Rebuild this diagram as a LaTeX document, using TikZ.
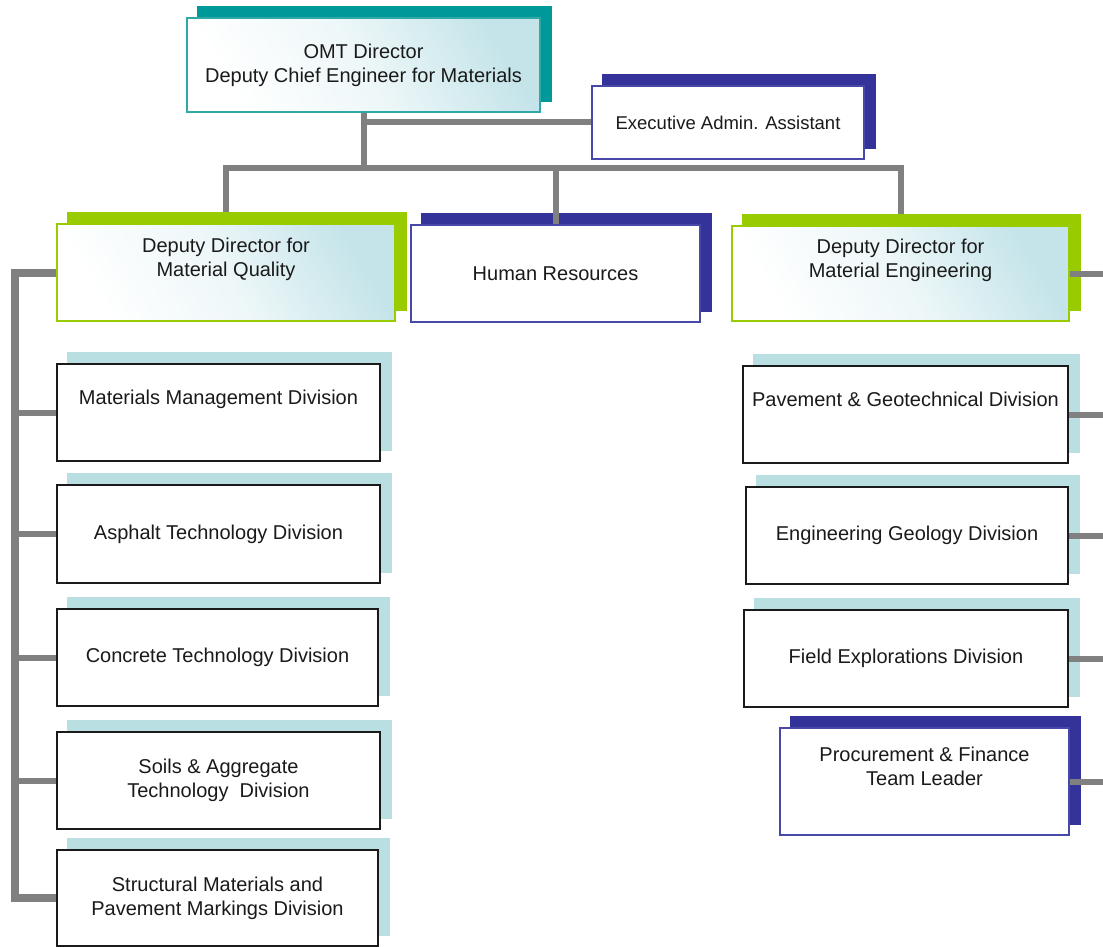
\documentclass[tikz,border=0pt]{standalone}
\usepackage{fontspec}
\setmainfont{Liberation Sans}
\pgfdeclarelayer{shadowlayer}
\pgfdeclarelayer{wirelayer}
\pgfsetlayers{shadowlayer,wirelayer,main}

\definecolor{tealshade}{HTML}{009999}
\definecolor{tealline}{HTML}{2FA8A8}
\definecolor{navyshade}{HTML}{333399}
\definecolor{navyline}{HTML}{4848A8}
\definecolor{limeshade}{HTML}{99CC00}
\definecolor{iceshade}{HTML}{B9DFE3}
\definecolor{wiregray}{HTML}{808080}
\definecolor{tint}{HTML}{C4E4E9}
\definecolor{ink}{HTML}{1A1A1A}

\begin{document}
\begin{tikzpicture}[x=1pt,y=-1pt,
  every node/.style={font=\fontsize{20}{24}\selectfont, text=ink, align=center, inner sep=0pt},
  dims/.style 2 args={minimum width=#1pt, minimum height=#2pt},
  headbox/.style={draw=#1, line width=1.6pt, shading=axis, top color=tint, bottom color=white, middle color=white!70!tint, shading angle=-60},
  plainbox/.style={draw=navyline, line width=1.6pt, fill=white},
  unitbox/.style={draw=ink, line width=1.8pt, fill=white},
  lift/.style={text depth=30pt},
  wire/.style={draw=wiregray, line width=6pt},
  trunk/.style={draw=wiregray, line width=8pt}]
\useasboundingbox (0,0) rectangle (1103,947);

% director level
\node[headbox=tealline, dims={353}{94}] (omt) at (363.5,65)
  {OMT Director\\Deputy Chief Engineer for Materials};
\node[plainbox, dims={272}{73}, font=\fontsize{18.5}{22}\selectfont] (ea) at (728,122.5)
  {Executive Admin. Assistant};

% deputy level
\node[headbox=limeshade, dims={338}{97}, lift] (dq) at (226,272.5)
  {Deputy Director for\\Material Quality};
\node[plainbox, dims={289}{97}] (hr) at (555.5,273.5) {Human Resources};
\node[headbox=limeshade, dims={337}{95}, lift] (de) at (900.5,273.5)
  {Deputy Director for\\Material Engineering};

% material quality divisions
\node[unitbox, dims={323}{97}, lift] (mmd) at (218.5,412.5) {Materials Management Division};
\node[unitbox, dims={323}{98}] (asp) at (218.5,534) {Asphalt Technology Division};
\node[unitbox, dims={321}{97}] (con) at (217.5,657.5) {Concrete Technology Division};
\node[unitbox, dims={323}{97}] (soil) at (218.5,780.5) {Soils \& Aggregate\\Technology~~Division};
\node[unitbox, dims={321}{96}] (str) at (217.5,898) {Structural Materials and\\Pavement Markings Division};

% material engineering divisions
\node[unitbox, dims={325}{97}, lift] (pg) at (905.5,414.5) {Pavement \& Geotechnical Division};
\node[unitbox, dims={322}{97}] (eg) at (907,535.5) {Engineering Geology Division};
\node[unitbox, dims={324}{97}] (fe) at (906,658.5) {Field Explorations Division};
\node[plainbox, dims={289}{107}, lift] (pf) at (924.5,781.5) {Procurement \& Finance\\Team Leader};

% offset backing panels
\begin{pgfonlayer}{shadowlayer}
  \foreach \n/\c in {omt/tealshade,ea/navyshade,dq/limeshade,hr/navyshade,de/limeshade,
      mmd/iceshade,asp/iceshade,con/iceshade,soil/iceshade,str/iceshade,
      pg/iceshade,eg/iceshade,fe/iceshade,pf/navyshade}
    \fill[\c] ([shift={(11pt,11pt)}]\n.south west) rectangle ([shift={(11pt,11pt)}]\n.north east);
\end{pgfonlayer}

% reporting lines
\begin{pgfonlayer}{wirelayer}
  \path (omt.south) ++(0,55) coordinate (hub);
  \coordinate (rail) at (15,0);
  \coordinate (redge) at (1103,0);
  \draw[wire] (omt.south) -- (hub);
  \draw[wire] (omt.south |- ea.west) -- (ea.west);
  \draw[wire] ([yshift=11pt]dq.north) -- (dq.north |- hub) -- (de.north |- hub) -- ([yshift=11pt]de.north);
  \draw[wire] (hr.north |- hub) -- (hr.north);
  \draw[trunk] (dq.west) -- (dq.west -| rail) -- (str.west -| rail) -- (str.west);
  \foreach \n in {mmd,asp,con,soil}
    \draw[wire] (\n.west -| rail) -- (\n.west);
  \foreach \n in {de,pg,eg,fe,pf}
    \draw[wire] (\n.east) -- (\n.east -| redge);
\end{pgfonlayer}
\end{tikzpicture}
\end{document}
